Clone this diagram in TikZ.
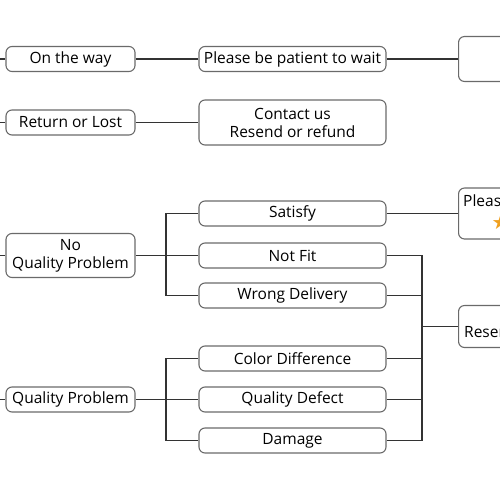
\documentclass[tikz,border=0pt]{standalone}
\usepackage{fontspec}
\setmainfont{Open Sans}
\newfontfamily\symfont{DejaVu Sans}
\definecolor{linec}{HTML}{333333}
\definecolor{boxc}{HTML}{6A6A6A}
\definecolor{starc}{HTML}{F0A020}
\begin{document}
\begin{tikzpicture}[x=1pt,y=-1pt,
  every node/.style={font=\fontsize{15.5}{18}\selectfont, text=black},
  box/.style={draw=boxc, line width=1.1pt, rounded corners=6pt, inner sep=0pt, align=center},
  lbox/.style={box, minimum width=129pt, minimum height=25pt},
  mbox/.style={box, minimum width=187pt, minimum height=25pt},
  rbox/.style={box, minimum width=90pt, anchor=west},
  conn/.style={draw=linec, line width=1.2pt}]
\useasboundingbox (0,0) rectangle (500,500);
\clip (0,0) rectangle (500,500);
% left column
\node[lbox] (onway) at (70.5,59) {On the way};
\node[lbox] (ret) at (70.5,122.5) {Return or Lost};
\node[lbox, minimum height=44pt] (nqp) at (70.5,255.5) {No\\Quality Problem};
\node[lbox] (qp) at (70.5,399.5) {Quality Problem};
% middle column
\node[mbox] (wait) at (292.5,59) {Please be patient to wait};
\node[mbox, minimum height=45pt] (contact) at (292.5,122.5) {Contact us\\Resend or refund};
\node[mbox] (satisfy) at (292.5,213.5) {Satisfy};
\node[mbox] (notfit) at (292.5,255.5) {Not Fit};
\node[mbox] (wrong) at (292.5,295.5) {Wrong Delivery};
\node[mbox] (color) at (292.5,358.5) {Color Difference};
\node[mbox] (defect) at (292.5,399.5) {Quality Defect};
\node[mbox] (damage) at (292.5,440.5) {Damage};
% right column (cut off by the edge)
\node[rbox, minimum height=45pt] (top) at (458,59) {};
\node[rbox, minimum height=51pt] (please) at (458,213.5) {};
\node[anchor=base west, inner sep=0pt] (pleasetxt) at (463,206) {Please};
\node[anchor=north, inner sep=0pt, text=starc, font=\symfont\fontsize{20}{21}\selectfont] (star) at (500.5,214.5) {★};
\node[rbox, minimum height=42pt] (resend) at (458,326.5) {};
\node[anchor=base west, inner sep=0pt] (resendtxt) at (464,337) {Resend};
% stubs at the left edge
\coordinate (s1) at (0,59);
\coordinate (s2) at (0,122.5);
\coordinate (s3) at (0,255.5);
\coordinate (s4) at (0,399.5);
\draw[conn] (s1) -- (onway.west);
\draw[conn] (s2) -- (ret.west);
\draw[conn] (s3) -- (nqp.west);
\draw[conn] (s4) -- (qp.west);
% top rows
\draw[conn] (onway.east) -- (wait.west);
\draw[conn] (wait.east) -- (top.west);
\draw[conn] (ret.east) -- (contact.west);
% branches
\coordinate (j1) at (166,255.5);
\coordinate (j2) at (166,399.5);
\draw[conn] (nqp.east) -- (j1);
\draw[conn] (j1) |- (satisfy.west);
\draw[conn] (j1) -- (notfit.west);
\draw[conn] (j1) |- (wrong.west);
\draw[conn] (qp.east) -- (j2);
\draw[conn] (j2) |- (color.west);
\draw[conn] (j2) -- (defect.west);
\draw[conn] (j2) |- (damage.west);
% right merges
\draw[conn] (satisfy.east) -- (please.west);
\coordinate (j3) at (422,326.5);
\draw[conn] (notfit.east) -| (j3);
\draw[conn] (damage.east) -| (j3);
\draw[conn] (wrong.east) -- (wrong.east -| j3);
\draw[conn] (color.east) -- (color.east -| j3);
\draw[conn] (defect.east) -- (defect.east -| j3);
\draw[conn] (j3) -- (resend.west);
\end{tikzpicture}
\end{document}
